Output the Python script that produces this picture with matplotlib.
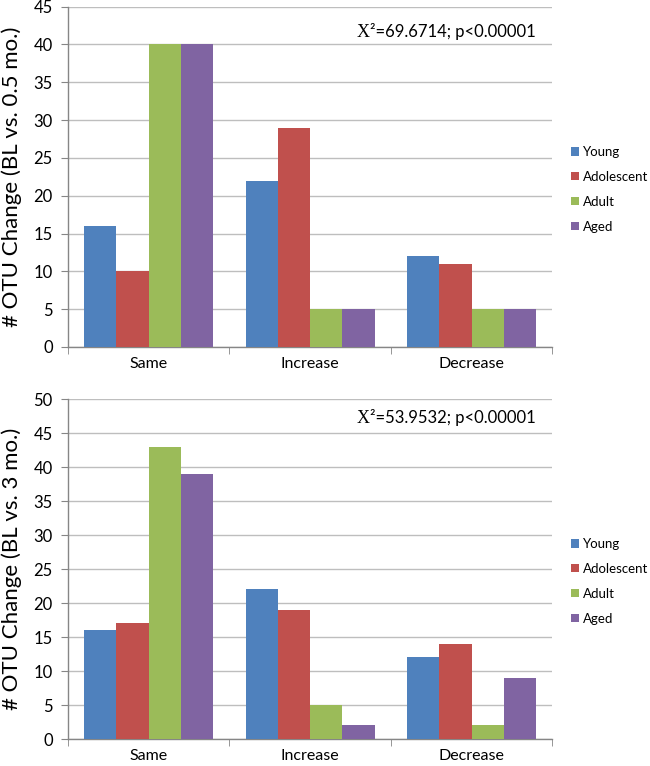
import matplotlib
matplotlib.use("Agg")
import matplotlib.pyplot as plt
import numpy as np
from matplotlib.offsetbox import TextArea, HPacker, AnchoredOffsetbox
from matplotlib.patches import Patch

categories = ["Same", "Increase", "Decrease"]
groups = ["Young", "Adolescent", "Adult", "Aged"]
colors = ["#4F81BD", "#C0504D", "#9BBB59", "#8064A2"]

# top panel (BL vs. 0.5 mo.)
top_young = [16, 22, 12]
top_adolescent = [10, 29, 11]
top_adult = [40, 5, 5]
top_aged = [40, 5, 5]

# bottom panel (BL vs. 3 mo.)
bot_young = [16, 22, 12]
bot_adolescent = [17, 19, 14]
bot_adult = [43, 5, 2]
bot_aged = [39, 2, 9]

top_ylabel = "# OTU Change (BL vs. 0.5 mo.)"
bot_ylabel = "# OTU Change (BL vs. 3 mo.)"
top_stat = "²=69.6714; p<0.00001"
bot_stat = "²=53.9532; p<0.00001"

FONT = "Lato"
plt.rcParams['font.family'] = [FONT, 'DejaVu Sans']

fig = plt.figure(figsize=(6.5, 7.66), dpi=100)
ax1 = fig.add_axes([0.1046, 0.547, 0.745, 0.4445])
ax2 = fig.add_axes([0.1046, 0.0352, 0.745, 0.4439])

grid_c = "#BEBEBE"

def draw(ax, series, ymax, ylabel, stat, stat_y, legend_y):
    x = np.arange(len(categories))
    w = 0.2
    for i, (vals, c, name) in enumerate(zip(series, colors, groups)):
        ax.bar(x + (i - 1.5) * w, vals, width=w, color=c, label=name, zorder=3)
    ax.set_xlim(-0.5, 2.5)
    ax.set_ylim(0, ymax)
    ax.set_yticks(np.arange(0, ymax + 1, 5))
    ax.yaxis.grid(True, color=grid_c, linewidth=1, zorder=0)
    ax.set_axisbelow(True)
    for s in ["top", "right"]:
        ax.spines[s].set_visible(False)
    for s in ["left", "bottom"]:
        ax.spines[s].set_color("#868686")
        ax.spines[s].set_linewidth(1)
    ax.set_xticks(x)
    ax.set_xticklabels(categories, fontsize=11.5)
    ax.set_xticks([-0.5, 0.5, 1.5, 2.5], minor=True)
    ax.tick_params(axis="x", which="major", length=0, pad=7)
    ax.tick_params(axis="x", which="minor", length=5, color="#868686")
    ax.tick_params(axis="y", length=5, color="#868686", labelsize=12, pad=6)
    ax.set_ylabel(ylabel, fontsize=16, labelpad=8)
    t1 = TextArea("X", textprops=dict(family="Liberation Serif", fontsize=13))
    t2 = TextArea(stat, textprops=dict(family=FONT, fontsize=12))
    box = HPacker(children=[t1, t2], pad=0, sep=0, align="baseline")
    anc = AnchoredOffsetbox(loc="center right", child=box, frameon=False,
                            bbox_to_anchor=(0.965, stat_y), bbox_transform=ax.transAxes,
                            borderpad=0, pad=0)
    ax.add_artist(anc)
    handles = [Patch(facecolor=c, label=g) for c, g in zip(colors, groups)]
    fig.legend(handles=handles, loc="upper left", bbox_to_anchor=(0.879, legend_y),
               frameon=False, fontsize=9.5, handlelength=0.6, handleheight=0.6,
               handletextpad=0.3, labelspacing=0.98, borderaxespad=0, borderpad=0)

draw(ax1, [top_young, top_adolescent, top_adult, top_aged], 45, top_ylabel, top_stat, 0.925, 1 - 146/766)
draw(ax2, [bot_young, bot_adolescent, bot_adult, bot_aged], 50, bot_ylabel, bot_stat, 0.945, 1 - 538/766)

fig.savefig("out.png", dpi=100)
